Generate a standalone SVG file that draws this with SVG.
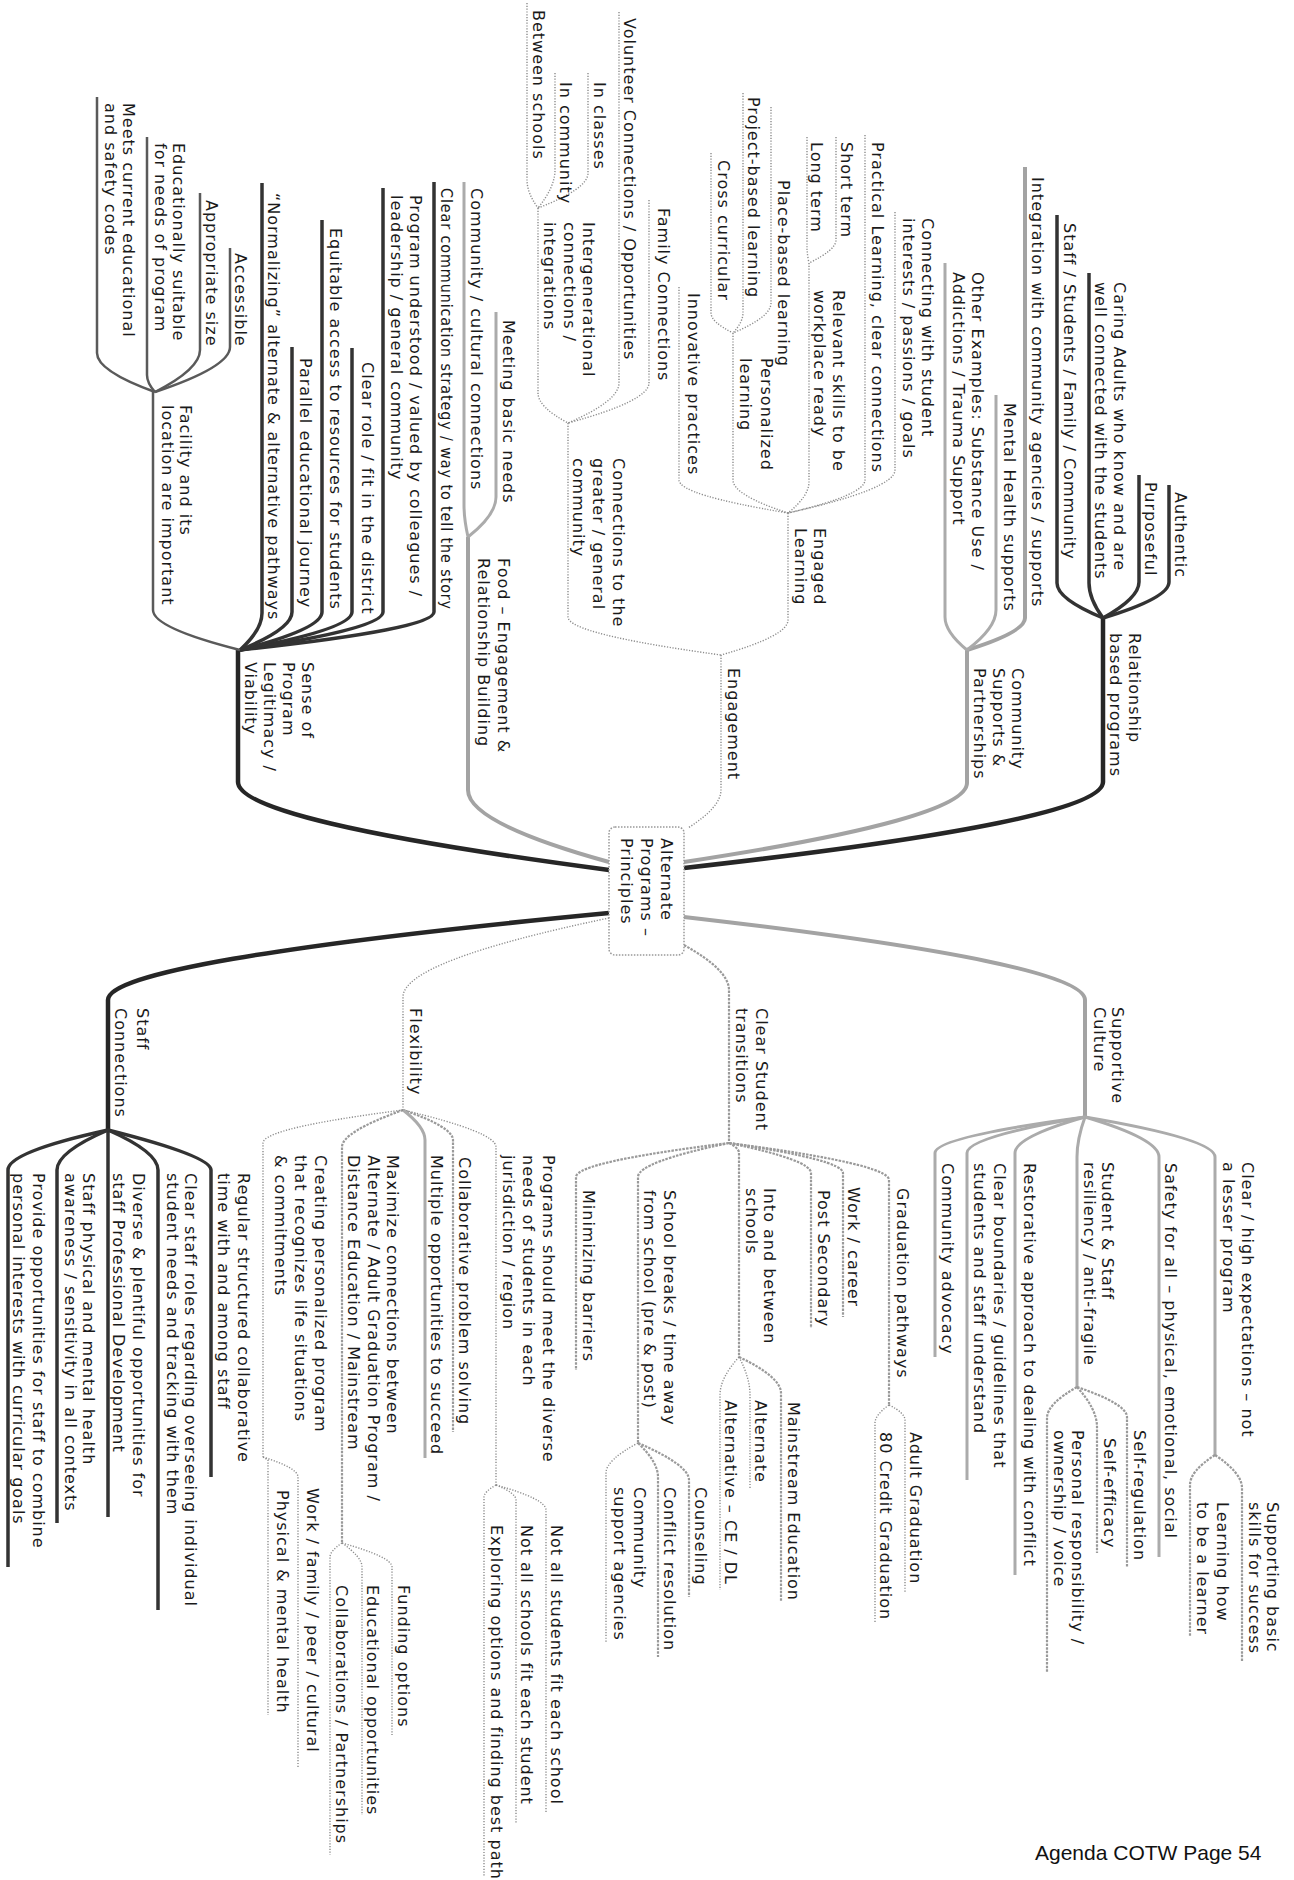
<svg xmlns="http://www.w3.org/2000/svg" width="1294" height="1880" viewBox="0 0 1294 1880">
<style>
.t{font-family:"DejaVu Sans",Verdana,sans-serif;font-size:16px;letter-spacing:1px;fill:#1a1a1a}
.ft{font-family:"Liberation Sans",Arial,sans-serif;font-size:21px;fill:#111}
.dk{stroke:#262626;stroke-width:4.5}
.dk2{stroke:#333;stroke-width:3.5}
.md{stroke:#5a5a5a;stroke-width:2.5}
.gy{stroke:#a3a3a3;stroke-width:4}
.gy2{stroke:#ababab;stroke-width:3}
.ds{stroke:#9a9a9a;stroke-width:2.2;stroke-dasharray:2.5 1.2}
.dt{stroke:#8c8c8c;stroke-width:1.4;stroke-dasharray:1.2 1.6}
.box{fill:#fff;stroke:#999;stroke-width:1.5;stroke-dasharray:1.5 1.5}
</style>
<rect width="1294" height="1880" fill="#fff"/>
<g id="connectors" fill="none" stroke-linecap="butt">
<!-- Relationship -->
<path class="dk" d="M1103 618 L1103 782 Q1103 821 684 868"/>
<path class="dk2" d="M1169 485 L1169 582 Q1169 598 1103 618"/>
<path class="dk2" d="M1139 475 L1139 582 Q1139 598 1103 618"/>
<path class="dk2" d="M1089 273 L1089 583 Q1089 599 1103 618"/>
<path class="dk2" d="M1057 215 L1057 583 Q1057 599 1103 618"/>
<!-- Community supports -->
<path class="gy" d="M967 650 L967 783 Q967 819 684 862"/>
<path class="gy" d="M1025 167 L1025 618 Q1025 632 967 650"/>
<path class="gy2" d="M996 395 L996 610 Q996 628 967 650"/>
<path class="gy2" d="M945 263 L945 617 Q945 632 967 650"/>
<!-- Engagement -->
<path class="dt" d="M721 655 L721 790 Q721 807 688 828"/>
<path class="dt" d="M788 513 L788 620 Q788 636 721 655"/>
<path class="dt" d="M568 423 L568 617 Q568 634 721 655"/>
<path class="dt" d="M895 212 L895 470 Q895 489 788 513"/>
<path class="dt" d="M865 135 L865 480 Q865 495 788 513"/>
<path class="dt" d="M809 263 L809 482 Q809 496 788 513"/>
<path class="dt" d="M733 333 L733 480 Q733 495 788 513"/>
<path class="dt" d="M679 287 L679 480 Q679 495 788 513"/>
<path class="dt" d="M836 137 L836 240 Q836 250 809 263"/>
<path class="dt" d="M807 137 L807 247 Q807 254 809 263"/>
<path class="dt" d="M771 107 L771 303 Q771 317 733 333"/>
<path class="dt" d="M743 93 L743 313 Q743 322 733 333"/>
<path class="dt" d="M711 153 L711 313 Q711 322 733 333"/>
<path class="dt" d="M649 200 L649 383 Q649 401 568 423"/>
<path class="dt" d="M619 12 L619 383 Q619 401 568 423"/>
<path class="dt" d="M538 208 L538 393 Q538 407 568 423"/>
<path class="dt" d="M588 73 L588 173 Q588 189 538 208"/>
<path class="dt" d="M555 73 L555 170 Q555 187 538 208"/>
<path class="dt" d="M527 3 L527 180 Q527 193 538 208"/>
<!-- Food -->
<path class="gy" d="M468 537 L468 790 Q468 823 609 862"/>
<path class="gy2" d="M496 312 L496 497 Q496 515 468 537"/>
<path class="gy2" d="M464 182 L464 505 Q464 519 468 537"/>
<!-- Sense of program -->
<path class="dk" d="M238 650 L238 782 Q238 821 609 870"/>
<path class="dk2" d="M434 182 L434 612 Q434 629 240 650"/>
<path class="dk2" d="M383 188 L383 612 Q383 629 240 650"/>
<path class="dk2" d="M352 348 L352 612 Q352 629 240 650"/>
<path class="dk2" d="M322 220 L322 612 Q322 629 240 650"/>
<path class="dk2" d="M292 347 L292 612 Q292 629 240 650"/>
<path class="dk2" d="M262 183 L262 613 Q262 630 240 650"/>
<path class="md" d="M153 392 L153 610 Q153 628 240 650"/>
<path class="md" d="M230 248 L230 347 Q230 367 155 392"/>
<path class="md" d="M200 193 L200 350 Q200 369 155 392"/>
<path class="md" d="M147 137 L147 375 Q147 383 155 392"/>
<path class="md" d="M97 97 L97 353 Q97 371 155 392"/>
<!-- Supportive culture -->
<path class="gy" d="M684 917 Q1085 963 1085 1000 L1085 1117"/>
<path class="gy2" d="M1085 1117 Q1215 1139 1215 1157 L1215 1455"/>
<path class="gy2" d="M1085 1117 Q1159 1139 1159 1157 L1159 1557"/>
<path class="gy2" d="M1085 1117 Q1077 1139 1077 1157 L1077 1387"/>
<path class="gy2" d="M1085 1117 Q1015 1137 1015 1153 L1015 1575"/>
<path class="gy2" d="M1085 1117 Q967 1137 967 1153 L967 1480"/>
<path class="gy2" d="M1085 1117 Q935 1137 935 1153 L935 1357"/>
<path class="ds" d="M1215 1455 Q1242 1473 1242 1488 L1242 1662"/>
<path class="ds" d="M1215 1455 Q1190 1471 1190 1485 L1190 1637"/>
<path class="ds" d="M1077 1387 Q1127 1404 1127 1417 L1127 1567"/>
<path class="ds" d="M1077 1387 Q1097 1409 1097 1427 L1097 1553"/>
<path class="ds" d="M1077 1387 Q1047 1404 1047 1418 L1047 1672"/>
<!-- Clear student transitions -->
<path class="ds" d="M684 945 Q729 970 729 990 L729 1143"/>
<path class="ds" d="M729 1143 Q889 1164 889 1180 L889 1405"/>
<path class="ds" d="M729 1143 Q843 1160 843 1173 L843 1317"/>
<path class="ds" d="M729 1143 Q811 1160 811 1173 L811 1328"/>
<path class="ds" d="M729 1143 Q739 1148 739 1153 L739 1357"/>
<path class="ds" d="M729 1143 Q638 1162 638 1177 L638 1443"/>
<path class="ds" d="M729 1143 Q576 1162 576 1177 L576 1370"/>
<path class="dt" d="M889 1405 Q905 1413 905 1420 L905 1592"/>
<path class="dt" d="M889 1405 Q875 1415 875 1423 L875 1623"/>
<path class="ds" d="M739 1357 Q781 1377 781 1393 L781 1602"/>
<path class="dt" d="M739 1357 Q750 1378 750 1395 L750 1488"/>
<path class="dt" d="M739 1357 Q720 1378 720 1395 L720 1590"/>
<path class="ds" d="M638 1443 Q689 1465 689 1480 L689 1597"/>
<path class="ds" d="M638 1443 Q658 1462 658 1477 L658 1657"/>
<path class="dt" d="M638 1443 Q606 1460 606 1473 L606 1643"/>
<!-- Flexibility -->
<path class="dt" d="M609 918 Q403 961 403 997 L403 1110"/>
<path class="dt" d="M403 1110 Q496 1132 496 1147 L496 1485"/>
<path class="ds" d="M403 1110 Q453 1127 453 1140 L453 1432"/>
<path class="gy2" d="M403 1110 Q425 1127 425 1140 L425 1458"/>
<path class="ds" d="M403 1110 Q342 1132 342 1147 L342 1543"/>
<path class="dt" d="M403 1110 Q263 1128 263 1143 L263 1457"/>
<path class="dt" d="M496 1485 Q546 1499 546 1510 L546 1813"/>
<path class="dt" d="M496 1485 Q516 1493 516 1500 L516 1823"/>
<path class="dt" d="M496 1485 Q484 1492 484 1497 L484 1877"/>
<path class="dt" d="M342 1543 Q392 1557 392 1567 L392 1735"/>
<path class="dt" d="M342 1543 Q362 1557 362 1567 L362 1815"/>
<path class="dt" d="M342 1543 Q330 1551 330 1557 L330 1855"/>
<path class="dt" d="M263 1457 Q298 1468 298 1477 L298 1767"/>
<path class="dt" d="M263 1457 L268 1460 L268 1715"/>
<!-- Staff connections -->
<path class="dk" d="M609 913 Q108 961 108 1000 L108 1130"/>
<path class="dk2" d="M108 1130 Q211 1156 211 1170 L211 1477"/>
<path class="dk2" d="M108 1130 Q158 1152 158 1170 L158 1610"/>
<path class="dk2" d="M108 1130 L108 1517"/>
<path class="dk2" d="M108 1130 Q57 1152 57 1170 L57 1523"/>
<path class="dk2" d="M108 1130 Q8 1152 8 1170 L8 1567"/>
</g>

<g id="center">
<rect class="box" x="609" y="827" width="75" height="128" rx="6"/>
<text class="t" transform="rotate(90 661 838)" x="661" y="838">Alternate<tspan x="661" dy="20">Programs –</tspan><tspan x="661" dy="20">Principles</tspan></text>
</g>

<g id="relationship"><text class="t" transform="rotate(90 1129 633)" x="1129" y="633">Relationship<tspan x="1129" dy="19.5">based programs</tspan></text></g>
<g id="authentic"><text class="t" transform="rotate(90 1175 492)" x="1175" y="492">Authentic</text></g>
<g id="purposeful"><text class="t" transform="rotate(90 1145 482)" x="1145" y="482">Purposeful</text></g>
<g id="caring"><text class="t" transform="rotate(90 1114 282)" x="1114" y="282">Caring Adults who know and are<tspan x="1114" dy="19.5">well connected with the students</tspan></text></g>
<g id="staff-students"><text class="t" transform="rotate(90 1064 223)" x="1064" y="223">Staff / Students / Family / Community</text></g>

<g id="community-supports"><text class="t" transform="rotate(90 1012 668)" x="1012" y="668">Community<tspan x="1012" dy="19">Supports &amp;</tspan><tspan x="1012" dy="19">Partnerships</tspan></text></g>
<g id="integration"><text class="t" transform="rotate(90 1032 177)" x="1032" y="177">Integration with community agencies / supports</text></g>
<g id="mental-health"><text class="t" transform="rotate(90 1004 403)" x="1004" y="403">Mental Health supports</text></g>
<g id="other-examples"><text class="t" transform="rotate(90 972 272)" x="972" y="272">Other Examples: Substance Use /<tspan x="972" dy="19.5">Addictions / Trauma Support</tspan></text></g>

<g id="engagement"><text class="t" transform="rotate(90 728 668)" x="728" y="668">Engagement</text></g>
<g id="engaged-learning"><text class="t" transform="rotate(90 814 528)" x="814" y="528">Engaged<tspan x="814" dy="19.5">Learning</tspan></text></g>
<g id="connecting"><text class="t" transform="rotate(90 922 218)" x="922" y="218">Connecting with student<tspan x="922" dy="19.5">interests / passions / goals</tspan></text></g>
<g id="practical"><text class="t" transform="rotate(90 872 142)" x="872" y="142">Practical Learning, clear connections</text></g>
<g id="relevant"><text class="t" transform="rotate(90 833 290)" x="833" y="290">Relevant skills to be<tspan x="833" dy="19.5">workplace ready</tspan></text></g>
<g id="short-term"><text class="t" transform="rotate(90 841 142)" x="841" y="142">Short term</text></g>
<g id="long-term"><text class="t" transform="rotate(90 811 142)" x="811" y="142">Long term</text></g>
<g id="place-based"><text class="t" transform="rotate(90 778 180)" x="778" y="180">Place-based learning</text></g>
<g id="project-based"><text class="t" transform="rotate(90 748 97)" x="748" y="97">Project-based learning</text></g>
<g id="cross-curricular"><text class="t" transform="rotate(90 718 160)" x="718" y="160">Cross curricular</text></g>
<g id="personalized"><text class="t" transform="rotate(90 761 358)" x="761" y="358">Personalized<tspan x="761" dy="21">learning</tspan></text></g>
<g id="innovative"><text class="t" transform="rotate(90 688 293)" x="688" y="293">Innovative practices</text></g>
<g id="connections-greater"><text class="t" transform="rotate(90 613 458)" x="613" y="458">Connections to the<tspan x="613" dy="20">greater / general</tspan><tspan x="613" dy="20">community</tspan></text></g>
<g id="family-connections"><text class="t" transform="rotate(90 658 208)" x="658" y="208">Family Connections</text></g>
<g id="volunteer"><text class="t" transform="rotate(90 624 18)" x="624" y="18">Volunteer Connections / Opportunities</text></g>
<g id="intergenerational"><text class="t" transform="rotate(90 583 222)" x="583" y="222">Intergenerational<tspan x="583" dy="19.5">connections /</tspan><tspan x="583" dy="19.5">integrations</tspan></text></g>
<g id="in-classes"><text class="t" transform="rotate(90 594 82)" x="594" y="82">In classes</text></g>
<g id="in-community"><text class="t" transform="rotate(90 560 82)" x="560" y="82">In community</text></g>
<g id="between-schools"><text class="t" transform="rotate(90 533 10)" x="533" y="10">Between schools</text></g>

<g id="food"><text class="t" transform="rotate(90 498 558)" x="498" y="558">Food – Engagement &amp;<tspan x="498" dy="20">Relationship Building</tspan></text></g>
<g id="meeting-needs"><text class="t" transform="rotate(90 503 320)" x="503" y="320">Meeting basic needs</text></g>
<g id="community-cultural"><text class="t" transform="rotate(90 471 188)" x="471" y="188">Community / cultural connections</text></g>

<g id="sense-of-program"><text class="t" transform="rotate(90 302 662)" x="302" y="662">Sense of<tspan x="302" dy="19">Program</tspan><tspan x="302" dy="19.5">Legitimacy /</tspan><tspan x="302" dy="19">Viability</tspan></text></g>
<g id="clear-communication"><text class="t" transform="rotate(90 441 188)" x="441" y="188" textLength="422" lengthAdjust="spacingAndGlyphs">Clear communication strategy / way to tell the story</text></g>
<g id="program-understood"><text class="t" transform="rotate(90 410 195)" x="410" y="195">Program understood / valued by colleagues /<tspan x="410" dy="19.5">leadership / general community</tspan></text></g>
<g id="clear-role"><text class="t" transform="rotate(90 362 362)" x="362" y="362">Clear role / fit in the district</text></g>
<g id="equitable"><text class="t" transform="rotate(90 330 228)" x="330" y="228">Equitable access to resources for students</text></g>
<g id="parallel"><text class="t" transform="rotate(90 300 358)" x="300" y="358">Parallel educational journey</text></g>
<g id="normalizing"><text class="t" transform="rotate(90 268 193)" x="268" y="193">“Normalizing” alternate &amp; alternative pathways</text></g>
<g id="facility"><text class="t" transform="rotate(90 180 405)" x="180" y="405">Facility and its<tspan x="180" dy="18.5">location are important</tspan></text></g>
<g id="accessible"><text class="t" transform="rotate(90 235 253)" x="235" y="253">Accessible</text></g>
<g id="appropriate-size"><text class="t" transform="rotate(90 206 200)" x="206" y="200">Appropriate size</text></g>
<g id="educationally"><text class="t" transform="rotate(90 173 143)" x="173" y="143">Educationally suitable<tspan x="173" dy="18.5">for needs of program</tspan></text></g>
<g id="meets-codes"><text class="t" transform="rotate(90 123 103)" x="123" y="103">Meets current educational<tspan x="123" dy="18.5">and safety codes</tspan></text></g>

<g id="supportive-culture"><text class="t" transform="rotate(90 1112 1007)" x="1112" y="1007">Supportive<tspan x="1112" dy="18.5">Culture</tspan></text></g>
<g id="clear-high"><text class="t" transform="rotate(90 1242 1162)" x="1242" y="1162">Clear / high expectations – not<tspan x="1242" dy="19">a lesser program</tspan></text></g>
<g id="supporting-basic"><text class="t" transform="rotate(90 1267 1502)" x="1267" y="1502">Supporting basic<tspan x="1267" dy="18.5">skills for success</tspan></text></g>
<g id="learning-how"><text class="t" transform="rotate(90 1217 1502)" x="1217" y="1502">Learning how<tspan x="1217" dy="20">to be a learner</tspan></text></g>
<g id="safety"><text class="t" transform="rotate(90 1165 1163)" x="1165" y="1163">Safety for all – physical, emotional, social</text></g>
<g id="student-staff"><text class="t" transform="rotate(90 1102 1162)" x="1102" y="1162">Student &amp; Staff<tspan x="1102" dy="18.5">resiliency / anti-fragile</tspan></text></g>
<g id="self-regulation"><text class="t" transform="rotate(90 1134 1430)" x="1134" y="1430">Self-regulation</text></g>
<g id="self-efficacy"><text class="t" transform="rotate(90 1104 1438)" x="1104" y="1438">Self-efficacy</text></g>
<g id="personal-responsibility"><text class="t" transform="rotate(90 1072 1430)" x="1072" y="1430">Personal responsibility /<tspan x="1072" dy="18.5">ownership / voice</tspan></text></g>
<g id="restorative"><text class="t" transform="rotate(90 1024 1163)" x="1024" y="1163">Restorative approach to dealing with conflict</text></g>
<g id="clear-boundaries"><text class="t" transform="rotate(90 994 1163)" x="994" y="1163">Clear boundaries / guidelines that<tspan x="994" dy="20">students and staff understand</tspan></text></g>
<g id="community-advocacy"><text class="t" transform="rotate(90 942 1163)" x="942" y="1163">Community advocacy</text></g>

<g id="clear-student-transitions"><text class="t" transform="rotate(90 756 1008)" x="756" y="1008">Clear Student<tspan x="756" dy="20">transitions</tspan></text></g>
<g id="graduation-pathways"><text class="t" transform="rotate(90 897 1188)" x="897" y="1188">Graduation pathways</text></g>
<g id="adult-graduation"><text class="t" transform="rotate(90 910 1432)" x="910" y="1432">Adult Graduation</text></g>
<g id="credit-graduation"><text class="t" transform="rotate(90 880 1432)" x="880" y="1432">80 Credit Graduation</text></g>
<g id="work-career"><text class="t" transform="rotate(90 848 1187)" x="848" y="1187">Work / career</text></g>
<g id="post-secondary"><text class="t" transform="rotate(90 818 1190)" x="818" y="1190">Post Secondary</text></g>
<g id="into-between"><text class="t" transform="rotate(90 764 1188)" x="764" y="1188">Into and between<tspan x="764" dy="18.5">schools</tspan></text></g>
<g id="mainstream"><text class="t" transform="rotate(90 788 1402)" x="788" y="1402">Mainstream Education</text></g>
<g id="alternate"><text class="t" transform="rotate(90 755 1400)" x="755" y="1400">Alternate</text></g>
<g id="alternative"><text class="t" transform="rotate(90 725 1400)" x="725" y="1400">Alternative – CE / DL</text></g>
<g id="school-breaks"><text class="t" transform="rotate(90 664 1190)" x="664" y="1190">School breaks / time away<tspan x="664" dy="20">from school (pre &amp; post)</tspan></text></g>
<g id="counseling"><text class="t" transform="rotate(90 695 1487)" x="695" y="1487">Counseling</text></g>
<g id="conflict-resolution"><text class="t" transform="rotate(90 664 1487)" x="664" y="1487">Conflict resolution</text></g>
<g id="community-support"><text class="t" transform="rotate(90 634 1487)" x="634" y="1487">Community<tspan x="634" dy="20">support agencies</tspan></text></g>
<g id="minimizing"><text class="t" transform="rotate(90 583 1190)" x="583" y="1190">Minimizing barriers</text></g>

<g id="flexibility"><text class="t" transform="rotate(90 410 1008)" x="410" y="1008">Flexibility</text></g>
<g id="programs-should"><text class="t" transform="rotate(90 543 1155)" x="543" y="1155">Programs should meet the diverse<tspan x="543" dy="20">needs of students in each</tspan><tspan x="543" dy="20">jurisdiction / region</tspan></text></g>
<g id="not-all-students"><text class="t" transform="rotate(90 551 1525)" x="551" y="1525">Not all students fit each school</text></g>
<g id="not-all-schools"><text class="t" transform="rotate(90 521 1525)" x="521" y="1525">Not all schools fit each student</text></g>
<g id="exploring"><text class="t" transform="rotate(90 491 1525)" x="491" y="1525">Exploring options and finding best path</text></g>
<g id="collaborative"><text class="t" transform="rotate(90 459 1157)" x="459" y="1157">Collaborative problem solving</text></g>
<g id="multiple"><text class="t" transform="rotate(90 431 1155)" x="431" y="1155">Multiple opportunities to succeed</text></g>
<g id="maximize"><text class="t" transform="rotate(90 387 1155)" x="387" y="1155">Maximize connections between<tspan x="387" dy="19.5">Alternate / Adult Graduation Program /</tspan><tspan x="387" dy="19.5">Distance Education / Mainstream</tspan></text></g>
<g id="funding"><text class="t" transform="rotate(90 398 1585)" x="398" y="1585">Funding options</text></g>
<g id="educational-opportunities"><text class="t" transform="rotate(90 367 1585)" x="367" y="1585">Educational opportunities</text></g>
<g id="collaborations"><text class="t" transform="rotate(90 336 1585)" x="336" y="1585">Collaborations / Partnerships</text></g>
<g id="creating"><text class="t" transform="rotate(90 315 1155)" x="315" y="1155">Creating personalized program<tspan x="315" dy="20">that recognizes life situations</tspan><tspan x="315" dy="20">&amp; commitments</tspan></text></g>
<g id="work-family"><text class="t" transform="rotate(90 307 1488)" x="307" y="1488">Work / family / peer / cultural</text></g>
<g id="physical-mental"><text class="t" transform="rotate(90 277 1490)" x="277" y="1490">Physical &amp; mental health</text></g>

<g id="staff-connections"><text class="t" transform="rotate(90 137 1008)" x="137" y="1008">Staff<tspan x="137" dy="22">Connections</tspan></text></g>
<g id="regular-collab"><text class="t" transform="rotate(90 238 1173)" x="238" y="1173">Regular structured collaborative<tspan x="238" dy="20">time with and among staff</tspan></text></g>
<g id="clear-staff-roles"><text class="t" transform="rotate(90 185 1173)" x="185" y="1173">Clear staff roles regarding overseeing individual<tspan x="185" dy="18.5">student needs and tracking with them</tspan></text></g>
<g id="diverse"><text class="t" transform="rotate(90 133 1173)" x="133" y="1173">Diverse &amp; plentiful opportunities for<tspan x="133" dy="20">staff Professional Development</tspan></text></g>
<g id="staff-physical"><text class="t" transform="rotate(90 83 1173)" x="83" y="1173">Staff physical and mental health<tspan x="83" dy="18.5">awareness / sensitivity in all contexts</tspan></text></g>
<g id="provide"><text class="t" transform="rotate(90 33 1173)" x="33" y="1173">Provide opportunities for staff to combine<tspan x="33" dy="20">personal interests with curricular goals</tspan></text></g>

<text class="ft" x="1035" y="1860">Agenda COTW Page 54</text>
</svg>
